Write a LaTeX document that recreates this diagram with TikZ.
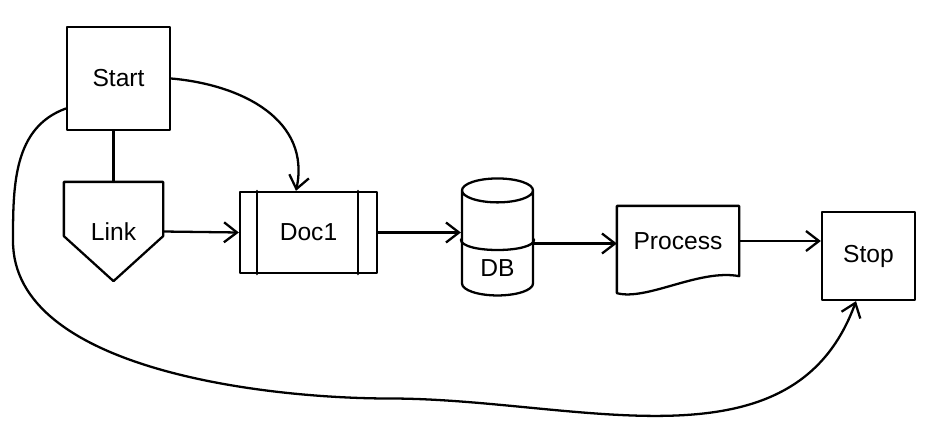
\documentclass[tikz,border=0pt]{standalone}
\usepackage{fontspec}
\setmainfont{Liberation Sans}
\usetikzlibrary{arrows.meta,shapes.geometric}

\begin{document}
\begin{tikzpicture}[every node/.style={font=\fontsize{14}{16}\selectfont},
  line width=1.3pt,line cap=round,line join=round,
  box/.style={draw,rectangle,inner sep=0pt},
  flow/.style={-{Straight Barb[length=2.6mm,width=4mm]}}]
\useasboundingbox[fill=white] (0,0) rectangle (18.6,8.42);
\node[box,minimum width=2.06cm,minimum height=2.06cm] (start) at (2.37,6.85) {Start};
\node[minimum width=1.94cm,minimum height=1.94cm,inner sep=0pt] (link) at (2.27,3.79) {Link};
\draw (link.north west)--(link.north east)--([yshift=0.9cm]link.south east)--(link.south)--([yshift=0.9cm]link.south west)--cycle;
\node[box,minimum width=2.74cm,minimum height=1.62cm] (doc1) at (6.17,3.77) {Doc1};
\draw ([xshift=0.36cm]doc1.north west)--([xshift=0.36cm]doc1.south west);
\draw ([xshift=-0.4cm]doc1.north east)--([xshift=-0.4cm]doc1.south east);
\node[draw,cylinder,shape border rotate=90,aspect=0.7,minimum width=1.42cm,minimum height=2.34cm,inner sep=0pt] (db) at (9.95,3.55) {\raisebox{-0.65cm}[0pt][0pt]{DB}};
\draw ([yshift=0.08cm]db.west) .. controls ([yshift=-0.2cm]db.west) and ([yshift=-0.2cm]db.east) .. ([yshift=0.08cm]db.east);
\node[minimum width=2.4cm,minimum height=1.36cm,inner sep=0pt] (proc) at (13.56,3.6) {Process};
\draw (proc.north west)--(proc.north east)--(proc.south east) .. controls ([xshift=-0.8cm,yshift=0.15cm]proc.south east) and ([xshift=0.6cm,yshift=-0.5cm]proc.south west) .. ([yshift=-0.34cm]proc.south west)--cycle;
\node[box,minimum width=1.86cm,minimum height=1.76cm] (stop) at (17.37,3.3) {Stop};
\coordinate (loopL) at (0.26,3.6);
\coordinate (loopB) at (7.8,0.45);
\draw (link.north)--(link.north |- start.south);
\draw[flow] (link.east)--(doc1.west);
\draw[flow] (start.east) to[out=-5,in=78,looseness=1.1] ([xshift=-0.25cm]doc1.north);
\draw[flow] (doc1.east)--(doc1.east -| db.west);
\draw[flow] (db.east)--(db.east -| proc.west);
\draw[flow] (proc.east)--(proc.east -| stop.west);
\draw[flow] ([yshift=-0.6cm]start.west) to[out=200,in=90] (loopL) to[out=-90,in=180,looseness=0.8] (loopB) to[out=0,in=-110] ([xshift=-0.25cm]stop.south);
\end{tikzpicture}
\end{document}
